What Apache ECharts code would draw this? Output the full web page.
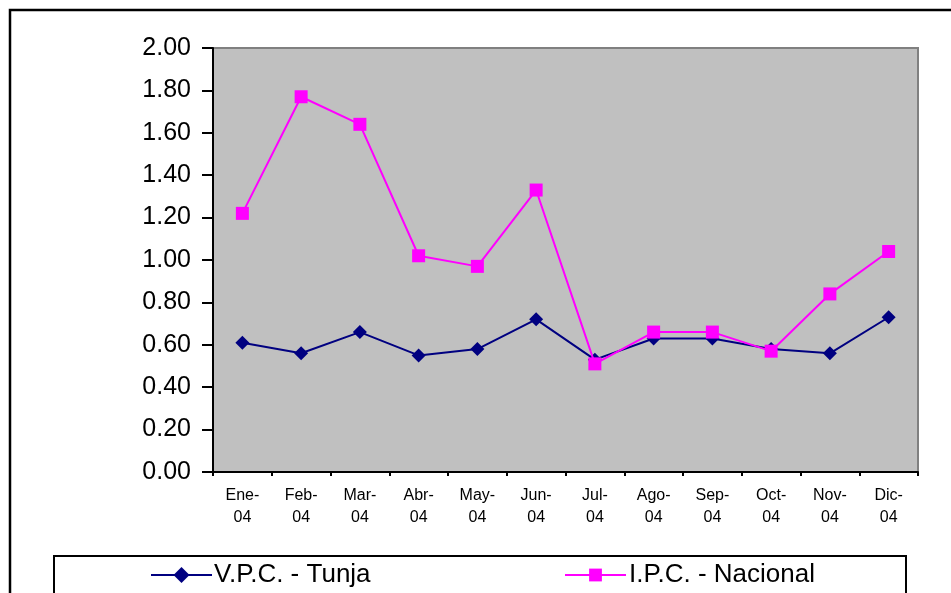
<!DOCTYPE html>
<html>
<head>
<meta charset="utf-8">
<script src="https://cdn.jsdelivr.net/npm/echarts@6/dist/echarts.min.js"></script>
<style>
  html, body { margin: 0; padding: 0; background: #ffffff; }
  #chart { width: 951px; height: 593px; }
</style>
</head>
<body>
<div id="chart"></div>
<script>
// meses
var months = ['Ene-\n04', 'Feb-\n04', 'Mar-\n04', 'Abr-\n04', 'May-\n04', 'Jun-\n04',
  'Jul-\n04', 'Ago-\n04', 'Sep-\n04', 'Oct-\n04', 'Nov-\n04', 'Dic-\n04']
// V.P.C. - Tunja
var vpcTunja = [0.61, 0.56, 0.66, 0.55, 0.58, 0.72, 0.53, 0.63, 0.63, 0.58, 0.56, 0.73]
// I.P.C. - Nacional
var ipcNacional = [1.22, 1.77, 1.64, 1.02, 0.97, 1.33, 0.51, 0.66, 0.66, 0.57, 0.84, 1.04]

var fontName = '"Liberation Sans", Arial, sans-serif'
var chart = echarts.init(document.getElementById('chart'), null, { renderer: 'canvas' })

var option = {
  animation: false,
  backgroundColor: '#ffffff',
  textStyle: { fontFamily: fontName },
  grid: {
    left: 213,
    right: 33,
    top: 48,
    bottom: 121,
    show: true,
    backgroundColor: '#c0c0c0',
    borderColor: '#808080',
    borderWidth: 2
  },
  graphic: [
    {
      type: 'rect',
      shape: { x: 10, y: 10, width: 980, height: 640 },
      style: { fill: 'none', stroke: '#000000', lineWidth: 2.5 },
      silent: true
    },
    {
      type: 'rect',
      shape: { x: 54, y: 556, width: 852, height: 80 },
      style: { fill: '#ffffff', stroke: '#000000', lineWidth: 2 },
      silent: true,
      z: -1
    }
  ],
  legend: [
    {
      data: ['V.P.C. - Tunja'],
      left: 145,
      top: 557,
      itemWidth: 61,
      itemHeight: 20,
      itemGap: 0,
      textStyle: { fontSize: 26, color: '#000000', fontFamily: fontName, padding: [0, 0, 0, -3] }
    },
    {
      data: ['I.P.C. - Nacional'],
      left: 559,
      top: 557,
      itemWidth: 61,
      itemHeight: 16,
      itemGap: 0,
      textStyle: { fontSize: 26, color: '#000000', fontFamily: fontName, padding: [0, 0, 0, -2] }
    }
  ],
  xAxis: {
    type: 'category',
    data: months,
    boundaryGap: true,
    axisLine: { lineStyle: { color: '#000000', width: 2 } },
    axisTick: { show: true, length: 4, lineStyle: { color: '#000000', width: 2 } },
    axisLabel: {
      color: '#000000',
      fontSize: 16,
      lineHeight: 22,
      margin: 13,
      interval: 0,
      fontFamily: fontName
    },
    splitLine: { show: false }
  },
  yAxis: {
    type: 'value',
    min: 0,
    max: 2,
    interval: 0.2,
    axisLine: { show: true, lineStyle: { color: '#000000', width: 2 } },
    axisTick: { show: true, length: 11, lineStyle: { color: '#000000', width: 2 } },
    axisLabel: {
      color: '#000000',
      fontSize: 25,
      margin: 22,
      fontFamily: fontName,
      formatter: function (v) { return v.toFixed(2) }
    },
    splitLine: { show: false }
  },
  series: [
    {
      name: 'V.P.C. - Tunja',
      type: 'line',
      data: vpcTunja,
      color: '#000080',
      symbol: 'diamond',
      symbolSize: 14,
      lineStyle: { color: '#000080', width: 2 },
      itemStyle: { color: '#000080' },
      z: 2
    },
    {
      name: 'I.P.C. - Nacional',
      type: 'line',
      data: ipcNacional,
      color: '#ff00ff',
      symbol: 'rect',
      symbolSize: 13,
      lineStyle: { color: '#ff00ff', width: 2 },
      itemStyle: { color: '#ff00ff' },
      z: 3
    }
  ]
}

chart.setOption(option)
</script>
</body>
</html>
